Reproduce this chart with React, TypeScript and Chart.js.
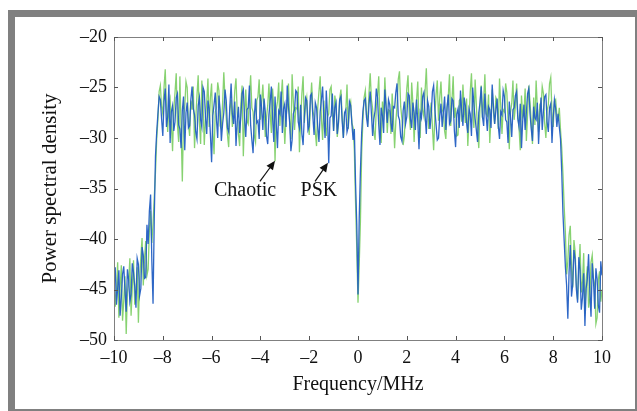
import React, { useEffect, useRef } from "react";
import { Chart, registerables } from "chart.js";

Chart.register(...registerables);

// Frequency grid (MHz): uniform sampling from -10 to 10
const freqStart = -10;
const freqStep = 0.05;

const psk = [
  -44.2, -42.8, -46.5, -44.9, -43.1, -47.6, -45.8, -43.5, -42.7, -45.1, -47.2, -43.0, -44.0, -46.2, -45.5, -42.4, -43.3, -44.7, -46.8, -41.9,
  -42.5, -45.6, -44.9, -40.8, -41.6, -43.9, -43.8, -38.6, -40.5, -37.2, -35.6, -42.1, -46.4, -38.0, -31.8, -29.4, -27.6, -25.9,
  -26.2, -28.1, -29.8, -26.4, -25.1, -28.9, -27.9, -24.7, -30.5, -27.4, -26.8, -29.3, -28.4, -26.0, -25.6, -28.7, -29.1, -31.0, -27.3, -25.9,
  -31.2, -27.5, -26.5, -29.0, -28.8, -26.2, -24.9, -27.1, -27.7, -29.4, -30.1, -26.8, -26.0, -28.2, -28.9, -25.0, -25.4, -27.9, -29.6, -26.3,
  -27.1, -29.6, -32.4, -27.8, -26.7, -25.5, -28.2, -30.0, -25.8, -27.3, -30.3, -28.6, -27.5, -25.2, -26.3, -29.0, -29.4, -26.8, -24.6, -27.6,
  -28.6, -26.4, -30.8, -28.3, -26.9, -29.5, -27.8, -25.6, -25.2, -28.0, -29.9, -27.2, -27.0, -24.8, -28.7, -30.2, -31.5, -27.9, -26.1, -28.5,
  -28.3, -30.1, -25.7, -27.0, -29.2, -26.1, -27.4, -29.8, -30.6, -27.7, -26.4, -24.9, -28.0, -30.4, -25.9, -28.6, -31.0, -27.3, -27.6, -25.4,
  -29.5, -27.1, -26.6, -28.9, -24.8, -26.9, -28.5, -31.3, -30.2, -27.6, -27.2, -25.3, -25.5, -28.4, -29.0, -26.7, -29.6, -30.7, -27.9, -26.0,
  -26.3, -29.2, -28.8, -25.8, -25.6, -27.9, -29.7, -26.5, -27.0, -28.9, -30.4, -27.4, -26.2, -24.9, -28.1, -30.0, -25.3, -27.7, -32.5, -28.0,
  -27.8, -25.6, -29.3, -27.0, -26.5, -29.6, -28.4, -26.2, -25.9, -28.3, -30.0, -27.5, -27.2, -29.4, -28.9, -26.4, -26.8, -28.6,
  -30.2, -29.1, -34.5, -38.6, -45.5, -38.0, -33.2, -29.5, -27.4, -26.3,
  -26.1, -28.0, -28.9, -26.7, -25.4, -27.6, -29.8, -28.1, -27.3, -25.1, -26.0, -28.7, -30.7, -27.0, -27.8, -29.5, -25.2, -26.9, -28.5, -26.2,
  -26.7, -28.5, -29.4, -26.9, -27.0, -25.5, -24.6, -27.8, -28.2, -29.9, -30.3, -27.3, -26.4, -28.6, -27.9, -25.6, -25.8, -28.1, -29.0, -26.5,
  -27.5, -29.2, -26.2, -28.4, -31.1, -27.5, -28.0, -25.9, -25.5, -27.8, -29.6, -26.3, -26.9, -29.1, -27.7, -25.4, -24.8, -27.2, -28.7, -30.2,
  -30.0, -27.8, -26.6, -28.9, -27.4, -25.9, -29.2, -27.0, -25.7, -28.6, -28.3, -26.1, -26.3, -29.3, -30.9, -27.6, -27.1, -29.0, -25.3, -27.4,
  -28.8, -26.0, -26.8, -28.5, -29.5, -27.1, -27.6, -29.8, -25.0, -26.7, -28.1, -29.2, -30.4, -27.5, -26.5, -24.9, -27.9, -28.8, -25.6, -27.7,
  -29.3, -26.9, -27.2, -29.0, -24.7, -26.8, -28.6, -27.3, -26.1, -28.8, -30.1, -27.4, -27.7, -25.3, -25.9, -28.2, -28.4, -30.5, -26.4, -27.9,
  -29.9, -27.2, -27.0, -25.8, -25.4, -28.1, -28.9, -26.6, -31.0, -28.3, -26.7, -29.2, -27.5, -25.6, -25.1, -27.6, -29.1, -30.3, -26.9, -28.0,
  -28.2, -26.5, -30.6, -28.1, -26.0, -29.2, -27.3, -25.9, -25.7, -28.4, -29.4, -27.0, -26.6, -30.5, -28.0, -26.2, -27.1, -28.9,
  -27.6, -28.9, -30.1, -33.4, -37.5, -40.2, -42.8, -44.6, -47.9, -43.3, -40.6, -45.7, -44.5, -41.1, -42.0, -45.0, -46.3, -41.8, -43.1, -47.0,
  -45.8, -43.4, -48.6, -44.9, -43.9, -41.5, -45.2, -47.7, -42.4, -44.1, -46.9, -42.9, -44.0, -46.6, -47.3, -42.2, -43.6,
];

const chaotic = [
  -43.5, -46.7, -45.2, -42.3, -47.8, -44.9, -42.6, -48.1, -46.1, -43.7, -49.4, -45.3, -44.3, -41.9, -47.6, -44.8, -42.1, -46.5, -45.0, -42.8,
  -48.3, -44.0, -41.8, -39.9, -44.6, -42.0, -40.2, -43.6, -43.0, -39.1, -37.2, -40.4, -38.5, -35.9, -33.4, -30.1, -28.2, -25.4,
  -24.8, -26.9, -27.6, -25.0, -23.2, -27.1, -29.4, -26.7, -26.1, -28.5, -31.3, -27.2, -25.5, -23.6, -28.7, -30.4, -23.9, -29.0, -34.3, -28.1,
  -26.9, -24.4, -25.0, -28.6, -29.8, -26.3, -27.2, -24.9, -31.0, -28.2, -25.8, -23.8, -28.4, -30.6, -24.3, -26.8, -30.7, -27.9, -26.5, -24.1,
  -28.9, -26.0, -24.6, -29.3, -31.6, -27.4, -27.0, -24.5, -25.3, -28.8, -29.1, -26.6, -23.5, -26.1, -28.0, -29.7, -30.9, -27.1, -26.2, -28.9,
  -27.8, -25.3, -24.1, -27.5, -29.6, -30.8, -26.6, -24.8, -31.8, -27.9, -25.2, -28.3, -28.6, -25.9, -23.8, -27.0, -27.4, -29.8, -30.4, -26.3,
  -25.9, -24.2, -28.2, -26.5, -24.7, -27.3, -29.9, -28.0, -26.8, -24.6, -27.5, -29.5, -25.1, -27.0, -32.3, -27.2, -26.4, -24.5, -28.8, -26.1,
  -24.2, -27.7, -30.6, -28.0, -26.9, -24.6, -28.3, -30.1, -23.7, -26.4, -29.2, -27.0, -27.1, -24.9, -31.4, -28.2, -25.6, -23.9, -28.5, -26.8,
  -26.0, -28.3, -29.7, -26.6, -24.5, -27.3, -27.9, -29.4, -30.8, -27.0, -25.4, -23.9, -28.1, -30.2, -26.3, -28.7, -29.8, -27.9, -27.6, -25.2,
  -24.9, -27.4, -29.3, -25.8, -26.7, -29.9, -28.6, -26.1, -25.2, -27.8, -30.0, -27.6, -27.3, -24.7, -29.1, -26.9, -26.4, -28.5,
  -29.0, -31.2, -36.4, -41.0, -46.3, -42.5, -38.2, -31.5, -28.3, -26.0,
  -25.3, -27.7, -28.4, -25.6, -23.6, -26.2, -27.1, -29.4, -30.2, -27.0, -25.8, -23.9, -28.9, -30.5, -26.4, -28.2, -24.0, -26.6, -29.5, -27.2,
  -27.3, -29.6, -25.6, -27.9, -31.0, -28.4, -26.8, -24.2, -23.4, -26.9, -28.1, -30.7, -29.8, -27.1, -25.1, -23.8, -27.7, -29.2, -24.5, -26.6,
  -30.4, -27.5, -26.2, -24.4, -28.7, -30.0, -25.0, -27.3, -27.9, -25.3, -23.1, -26.8, -29.1, -27.7, -26.5, -28.9, -31.2, -27.8, -25.7, -24.3,
  -28.3, -26.0, -24.4, -27.2, -27.5, -29.3, -30.1, -26.9, -25.9, -23.7, -28.8, -26.4, -23.9, -28.0, -27.0, -29.8, -29.7, -26.3, -26.1, -28.4,
  -24.7, -27.0, -28.5, -26.1, -30.8, -28.2, -25.4, -23.6, -27.2, -29.0, -24.2, -26.7, -29.3, -31.0, -26.9, -24.8, -28.0, -26.3, -23.7, -27.6,
  -27.8, -25.7, -30.5, -28.0, -25.2, -27.4, -28.6, -26.0, -26.3, -29.1, -24.1, -26.8, -29.6, -27.2, -27.4, -24.6, -25.5, -28.3, -31.1, -27.5,
  -26.6, -24.3, -28.2, -26.9, -24.6, -27.8, -29.0, -31.2, -25.8, -27.9, -27.6, -25.1, -30.3, -27.7, -24.8, -26.5, -28.4, -30.6, -26.0, -28.7,
  -24.3, -27.0, -29.4, -26.8, -27.1, -24.9, -25.6, -28.5, -30.0, -27.3, -26.7, -24.6, -24.0, -27.5, -28.9, -26.4, -26.2, -27.8,
  -28.1, -27.0, -29.2, -31.0, -33.6, -36.8, -39.4, -43.5, -42.2, -39.6, -38.7, -42.9, -44.8, -40.1, -41.3, -44.6, -46.0, -43.0, -40.5, -45.3,
  -44.2, -41.4, -47.4, -44.1, -42.7, -46.8, -45.9, -42.3, -41.6, -43.9, -44.5, -48.4, -47.8, -44.0, -43.2, -46.2, -45.0,
];

const xTickValues = [-10, -8, -6, -4, -2, 0, 2, 4, 6, 8, 10];
const yTickValues = [-50, -45, -40, -35, -30, -25, -20];

// Annotation labels and arrows (data coordinates)
const annotations = [
  { text: "Chaotic", tx: -4.63, ty: -35.2, ax0: -4.02, ay0: -34.3, ax1: -3.4, ay1: -32.25 },
  { text: "PSK", tx: -1.6, ty: -35.2, ax0: -1.76, ay0: -34.3, ax1: -1.23, ay1: -32.45 },
];

const SERIF = "'Liberation Serif', 'Times New Roman', serif";

const fmt = (v: number) => (v < 0 ? "\u2013" + Math.abs(v) : String(v));

const framePlugin = {
  id: "frame",
  beforeDraw(chart: any) {
    const { ctx, width, height } = chart;
    ctx.save();
    ctx.fillStyle = "#ffffff";
    ctx.fillRect(0, 0, width, height);
    ctx.fillStyle = "#808080";
    ctx.fillRect(8, 10, width - 8, height - 10);
    ctx.fillStyle = "#ffffff";
    ctx.fillRect(15, 17, width - 2 - 15, height - 2 - 17);
    ctx.restore();
  },
  afterDatasetsDraw(chart: any) {
    const { ctx, chartArea: a, scales } = chart;
    const xs = scales.x;
    const ys = scales.y;
    ctx.save();
    ctx.strokeStyle = "#808080";
    ctx.lineWidth = 1;
    ctx.strokeRect(Math.round(a.left) + 0.5, Math.round(a.top) + 0.5, Math.round(a.right - a.left), Math.round(a.bottom - a.top));
    ctx.strokeStyle = "#555555";
    const tl = 4;
    xTickValues.forEach((v) => {
      const px = Math.round(xs.getPixelForValue(v)) + 0.5;
      ctx.beginPath();
      ctx.moveTo(px, a.bottom);
      ctx.lineTo(px, a.bottom - tl);
      ctx.moveTo(px, a.top);
      ctx.lineTo(px, a.top + tl);
      ctx.stroke();
    });
    yTickValues.forEach((v) => {
      const py = Math.round(ys.getPixelForValue(v)) + 0.5;
      ctx.beginPath();
      ctx.moveTo(a.left, py);
      ctx.lineTo(a.left + tl, py);
      ctx.moveTo(a.right, py);
      ctx.lineTo(a.right - tl, py);
      ctx.stroke();
    });
    // annotations
    ctx.fillStyle = "#111111";
    ctx.strokeStyle = "#111111";
    ctx.font = `20px ${SERIF}`;
    ctx.textAlign = "center";
    ctx.textBaseline = "middle";
    annotations.forEach((an) => {
      ctx.fillText(an.text, xs.getPixelForValue(an.tx), ys.getPixelForValue(an.ty));
      const x0 = xs.getPixelForValue(an.ax0);
      const y0 = ys.getPixelForValue(an.ay0);
      const x1 = xs.getPixelForValue(an.ax1);
      const y1 = ys.getPixelForValue(an.ay1);
      const ang = Math.atan2(y1 - y0, x1 - x0);
      const hl = 9;
      const hw = 4;
      const bx = x1 - hl * Math.cos(ang);
      const by = y1 - hl * Math.sin(ang);
      ctx.lineWidth = 1.2;
      ctx.beginPath();
      ctx.moveTo(x0, y0);
      ctx.lineTo(bx, by);
      ctx.stroke();
      ctx.beginPath();
      ctx.moveTo(x1, y1);
      ctx.lineTo(bx + hw * Math.sin(ang), by - hw * Math.cos(ang));
      ctx.lineTo(bx - hw * Math.sin(ang), by + hw * Math.cos(ang));
      ctx.closePath();
      ctx.fill();
    });
    ctx.restore();
  },
};

export default function App() {
  const ref = useRef<HTMLCanvasElement | null>(null);

  useEffect(() => {
    if (!ref.current) return;
    const toPts = (arr: number[]) => arr.map((y, i) => ({ x: +(freqStart + i * freqStep).toFixed(3), y }));
    const chart = new Chart(ref.current, {
      type: "line",
      data: {
        datasets: [
          {
            label: "PSK",
            data: toPts(psk),
            borderColor: "rgba(35,95,195,0.95)",
            borderWidth: 1.3,
            pointRadius: 0,
            tension: 0,
            fill: false,
          },
          {
            label: "Chaotic",
            data: toPts(chaotic),
            borderColor: "rgba(95,195,65,0.75)",
            borderWidth: 1.3,
            pointRadius: 0,
            tension: 0,
            fill: false,
          },
        ],
      },
      options: {
        animation: false,
        responsive: false,
        devicePixelRatio: 1,
        events: [],
        layout: { padding: { left: 38, right: 35, top: 37, bottom: 14 } },
        plugins: { legend: { display: false }, tooltip: { enabled: false } },
        scales: {
          x: {
            type: "linear",
            min: -10,
            max: 10,
            afterFit: (s: any) => {
              s.height = 57;
            },
            afterBuildTicks: (s: any) => {
              s.ticks = xTickValues.map((v) => ({ value: v }));
            },
            ticks: {
              padding: 7,
              color: "#111111",
              font: { family: SERIF, size: 18 },
              maxRotation: 0,
              callback: (v: any) => fmt(Number(v)),
            },
            grid: { display: false, drawTicks: false },
            border: { display: false },
            title: {
              display: true,
              text: "Frequency/MHz",
              color: "#111111",
              font: { family: SERIF, size: 20 },
              padding: 0,
            },
          },
          y: {
            type: "linear",
            min: -50,
            max: -20,
            afterFit: (s: any) => {
              s.width = 76;
            },
            afterBuildTicks: (s: any) => {
              s.ticks = yTickValues.map((v) => ({ value: v }));
            },
            ticks: {
              padding: 7,
              color: "#111111",
              font: { family: SERIF, size: 18 },
              callback: (v: any) => fmt(Number(v)),
            },
            grid: { display: false, drawTicks: false },
            border: { display: false },
            title: {
              display: true,
              text: "Power spectral density",
              color: "#111111",
              font: { family: SERIF, size: 21 },
              padding: 0,
            },
          },
        },
      },
      plugins: [framePlugin],
    });
    return () => chart.destroy();
  }, []);

  return (
    <div style={{ position: "fixed", left: 0, top: 0, width: 637, height: 411 }}>
      <canvas ref={ref} width={637} height={411} style={{ width: 637, height: 411, display: "block" }} />
    </div>
  );
}
